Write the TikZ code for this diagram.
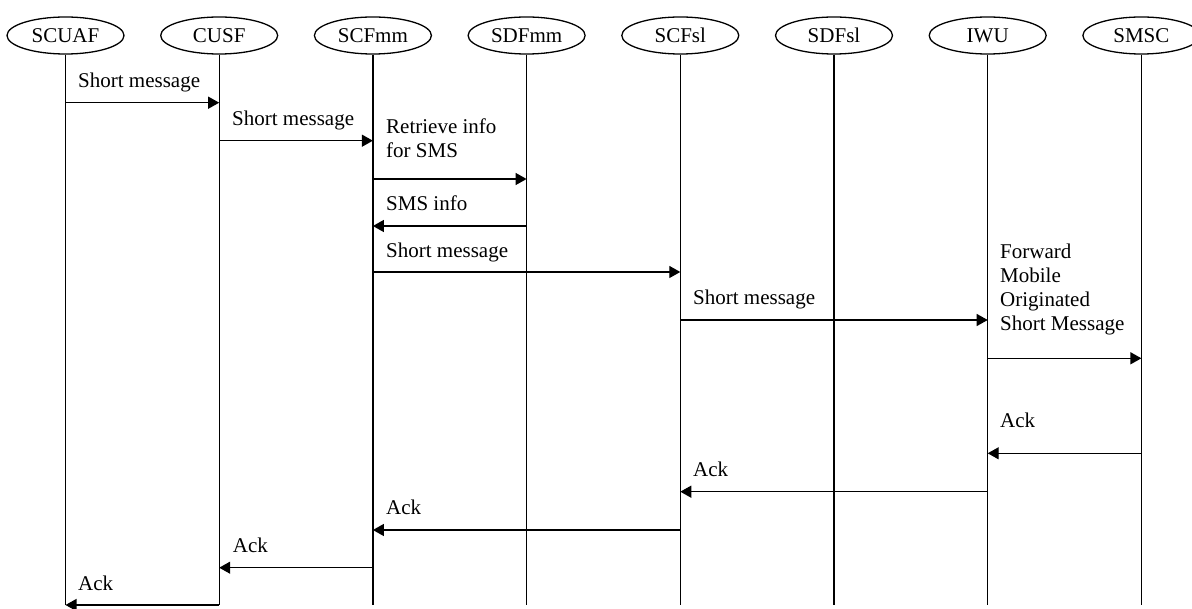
\documentclass[tikz,border=0pt]{standalone}
\usepackage{fontspec}
\setmainfont{Liberation Serif}
\usetikzlibrary{arrows.meta,shapes.geometric}

\begin{document}
\begin{tikzpicture}[x=1pt,y=-1pt,>={Triangle[length=11pt,width=12pt]},
  every node/.style={font=\fontsize{21}{24.1}\selectfont},
  entity/.style={draw,line width=1.3pt,ellipse,minimum width=117pt,minimum height=37pt,inner sep=0pt},
  msg/.style={->,line width=1.3pt},
  lbl/.style={anchor=base west,align=left,inner sep=0pt}]
  \useasboundingbox (0,0) rectangle (1192,609);
  \begin{scope}
  \clip (0,0) rectangle (1192,609);
  % entities and lifelines
  \foreach \name/\txt [count=\i from 0] in {scuaf/SCUAF,cusf/CUSF,scfmm/SCFmm,sdfmm/SDFmm,
      scfsl/SCFsl,sdfsl/SDFsl,iwu/IWU,smsc/SMSC} {
    \node[entity] (\name) at ({65.5+153.7*\i},35.5) {\txt};
    \coordinate (\name-end) at (\name |- 0,605);
    \draw[line width=1.3pt] (\name.south) -- (\name-end);
  }
  \end{scope}
  % messages
  \draw[msg] (scuaf |- 0,102.7) -- (cusf |- 0,102.7);
  \node[lbl] (m1) at (78,88) {Short message};
  \draw[msg] (cusf |- 0,140.7) -- (scfmm |- 0,140.7);
  \node[lbl] (m2) at (232,125.7) {Short message};
  \draw[msg] (scfmm |- 0,179) -- (sdfmm |- 0,179);
  \node[lbl] (m3) at (386,158) {Retrieve info\\for SMS};
  \draw[msg] (sdfmm |- 0,226) -- (scfmm |- 0,226);
  \node[lbl] (m4) at (386,211) {SMS info};
  \draw[msg] (scfmm |- 0,272) -- (scfsl |- 0,272);
  \node[lbl] (m5) at (386,258) {Short message};
  \draw[msg] (scfsl |- 0,320) -- (iwu |- 0,320);
  \node[lbl] (m6) at (693,305) {Short message};
  \draw[msg] (iwu |- 0,358.3) -- (smsc |- 0,358.3);
  \node[lbl] (m7) at (1000,330.7) {Forward\\Mobile\\Originated\\Short Message};
  % acknowledgements
  \draw[msg] (smsc |- 0,453.3) -- (iwu |- 0,453.3);
  \node[lbl] (a1) at (1000,428) {Ack};
  \draw[msg] (iwu |- 0,491.7) -- (scfsl |- 0,491.7);
  \node[lbl] (a2) at (693,476.7) {Ack};
  \draw[msg] (scfsl |- 0,530) -- (scfmm |- 0,530);
  \node[lbl] (a3) at (386,514.5) {Ack};
  \draw[msg] (scfmm |- 0,567.7) -- (cusf |- 0,567.7);
  \node[lbl] (a4) at (232.7,552) {Ack};
  \draw[msg] (cusf |- 0,605) -- (scuaf |- 0,605);
  \node[lbl] (a5) at (78,590.7) {Ack};
\end{tikzpicture}
\end{document}
